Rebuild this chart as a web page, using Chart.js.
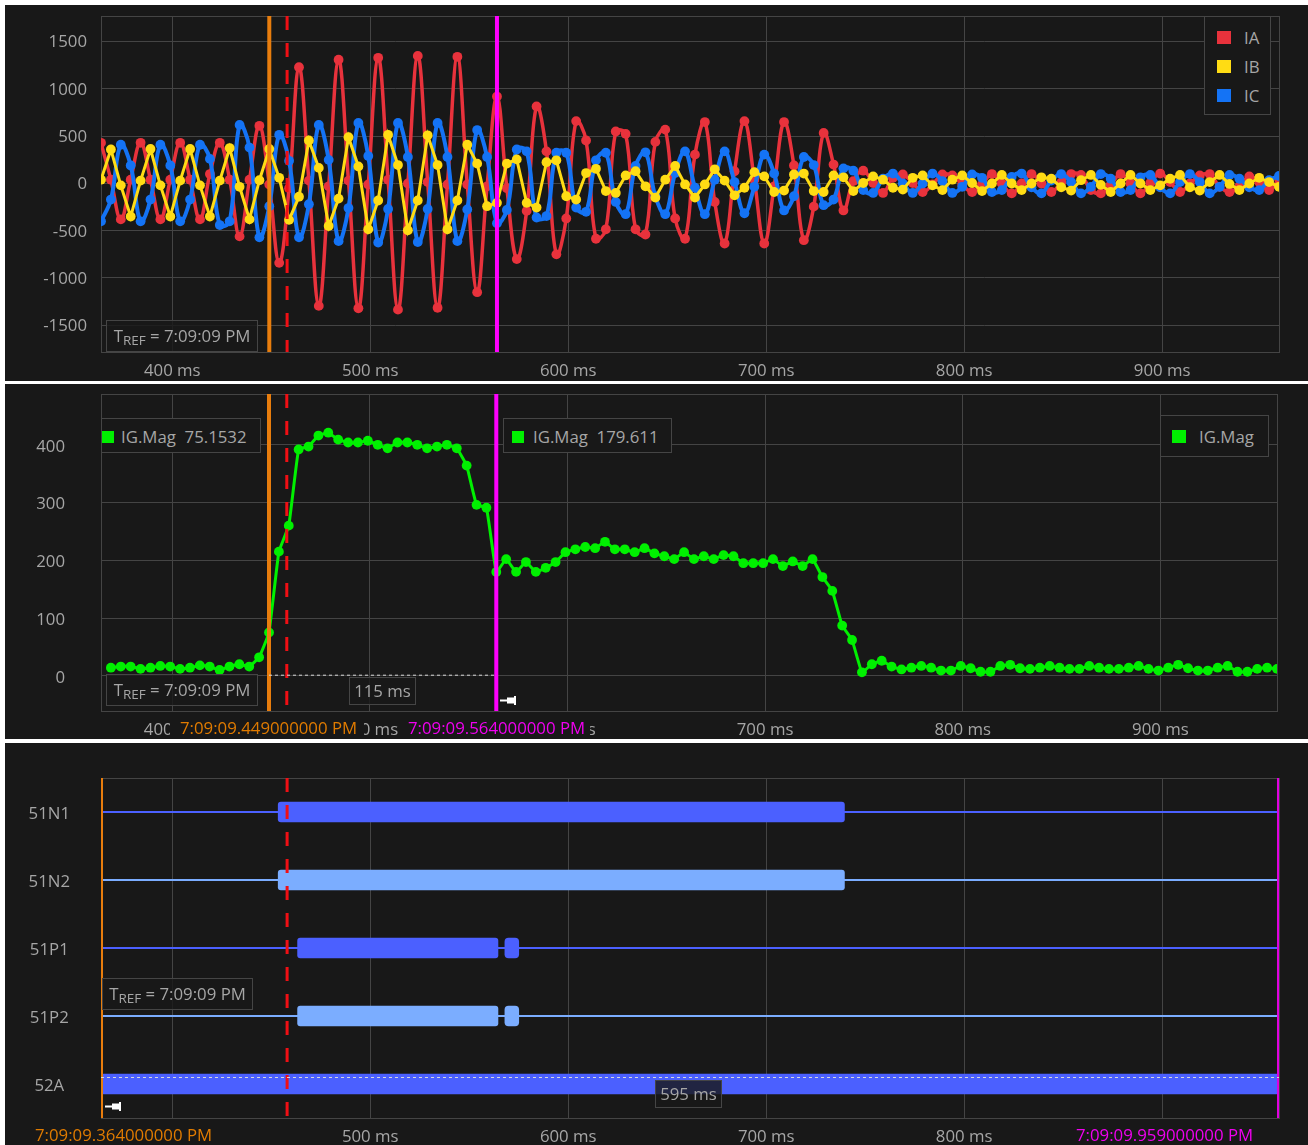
<!DOCTYPE html>
<html>
<head>
<meta charset="utf-8">
<title>Event record</title>
<script src="https://cdn.jsdelivr.net/npm/chart.js@4"></script>
<style>
  html, body { margin: 0; padding: 0; background: #fff; }
  body { position: relative; width: 1308px; height: 1145px; overflow: hidden; font-family: "Open Sans", sans-serif; font-size: 16.8px; color: #a6a6a6; }
  .panel { position: absolute; left: 5px; width: 1303px; background: #181818; }
  canvas { display: block; }
  .box { position: absolute; box-sizing: border-box; border: 1px solid #454545; background: rgba(24,24,24,.82); line-height: 30px; white-space: nowrap; }
  .box sub { font-size: 13.5px; vertical-align: -3px; line-height: 0; }
  .sq { position: absolute; width: 14px; height: 13px; }
  .txt { position: absolute; line-height: 20px; white-space: nowrap; }
  .stamp { position: absolute; height: 20px; line-height: 20px; background: #181818; white-space: nowrap; }
  .pin { position: absolute; width: 17px; height: 9px; }
</style>
</head>
<body>
<div class="panel" style="top:5px;height:376px"><canvas id="phaseChart"></canvas></div>
<div class="panel" style="top:384px;height:355px"><canvas id="magChart"></canvas></div>
<div class="panel" style="top:743px;height:402px"><canvas id="digitalChart"></canvas></div>

<!-- panel 1 overlays -->
<div class="box" style="left:106px;top:320px;width:152px;height:32px;text-align:center">T<sub>REF</sub> = 7:09:09 PM</div>
<div class="box" style="left:1204px;top:16px;width:67px;height:99px;background:#181818"></div>
<div class="sq" style="left:1217px;top:31px;background:#e8323c"></div><div class="txt" style="left:1244px;top:28px">IA</div>
<div class="sq" style="left:1217px;top:60px;background:#ffdc14"></div><div class="txt" style="left:1244px;top:57px">IB</div>
<div class="sq" style="left:1217px;top:89px;background:#1473f5"></div><div class="txt" style="left:1244px;top:86px">IC</div>

<!-- panel 2 overlays -->
<div class="box" style="left:101px;top:418px;width:160px;height:35px;background:#181818"></div>
<div class="sq" style="left:102px;top:431px;width:12px;height:12px;background:#00f000"></div>
<div class="txt" style="left:121px;top:427px">IG.Mag&nbsp; 75.1532</div>
<div class="box" style="left:503px;top:418px;width:169px;height:35px;background:#181818"></div>
<div class="sq" style="left:512px;top:431px;width:12px;height:12px;background:#00f000"></div>
<div class="txt" style="left:533px;top:427px">IG.Mag&nbsp; 179.611</div>
<div class="box" style="left:1160px;top:415px;width:109px;height:42px;background:#181818"></div>
<div class="sq" style="left:1172px;top:430px;background:#00f000"></div>
<div class="txt" style="left:1199px;top:427px">IG.Mag</div>
<div class="box" style="left:106px;top:674px;width:152px;height:32px;text-align:center">T<sub>REF</sub> = 7:09:09 PM</div>
<div class="box" style="left:349px;top:677px;width:67px;height:28px;line-height:26px;text-align:center">115 ms</div>
<svg class="pin" style="left:500px;top:696px" viewBox="0 0 17 9"><path d="M0 3.5h7v2H0zM7 1.5h7v6H7zM14 0h2v9h-2z" fill="#fff"/></svg>
<div class="stamp" style="left:170px;top:718px;width:184px;padding-left:10px;color:#e07b00">7:09:09.449000000 PM</div>
<div class="stamp" style="left:399px;top:718px;width:182px;padding-left:9px;color:#f000f0">7:09:09.564000000 PM</div>

<!-- panel 3 overlays -->
<div class="box" style="left:102px;top:978px;width:151px;height:32px;text-align:center">T<sub>REF</sub> = 7:09:09 PM</div>
<div class="box" style="left:655px;top:1080px;width:67px;height:28px;line-height:26px;text-align:center">595 ms</div>
<svg class="pin" style="left:105px;top:1102px" viewBox="0 0 17 9"><path d="M0 3.5h7v2H0zM7 1.5h7v6H7zM14 0h2v9h-2z" fill="#fff"/></svg>
<div class="stamp" style="left:30px;top:1125px;width:188px;padding-left:5px;color:#e07b00">7:09:09.364000000 PM</div>
<div class="stamp" style="left:1070px;top:1125px;width:188px;padding-left:6px;color:#f000f0">7:09:09.959000000 PM</div>

<script>
/* Sample times in ms, one reading every 5 ms */
const TIMES = [364,369,374,379,384,389,394,399,404,409,414,419,424,429,434,439,444,449,454,459,
  464,469,474,479,484,489,494,499,504,509,514,519,524,529,534,539,544,549,554,559,
  564,569,574,579,584,589,594,599,604,609,614,619,624,629,634,639,644,649,654,659,
  664,669,674,679,684,689,694,699,704,709,714,719,724,729,734,739,744,749,754,759,
  764,769,774,779,784,789,794,799,804,809,814,819,824,829,834,839,844,849,854,859,
  864,869,874,879,884,889,894,899,904,909,914,919,924,929,934,939,944,949,954,959];

const IA = [430,40,-380,40,430,40,-380,40,430,40,-380,100,430,40,-560,40,610,-10,-840,-50,
  1230,30,-1295,-30,1310,30,-1320,-10,1330,40,-1335,0,1350,15,-1315,-10,1340,-10,-1150,-30,
  920,-50,-800,-290,815,340,-750,-370,660,455,-585,-485,550,525,-485,-540,440,570,-370,-585,
  305,650,-195,-635,130,660,40,-635,-30,650,190,-600,-245,535,200,-285,25,135,5,-100,
  60,95,5,-90,-10,95,85,-10,-90,-10,100,0,-105,0,100,0,-90,10,100,90,
  -70,-105,-15,100,0,-105,5,105,15,-90,0,85,100,-35,-90,-35,75,15,-70,50];

const IB = [40,360,-20,-350,30,365,-20,-350,30,365,-20,-350,30,375,-35,-380,35,365,60,-385,
  -140,455,165,-450,-160,490,180,-485,-180,515,195,-495,-180,510,195,-485,-180,410,210,-240,
  -205,210,255,-205,-255,225,245,-135,-170,110,155,-80,-100,85,130,-30,-150,40,185,-10,
  -150,-10,150,30,-125,-45,120,75,-90,-75,95,105,-80,-90,85,65,-80,5,75,40,
  -45,-65,60,85,-20,-70,40,85,5,-80,0,90,0,-70,0,65,50,-40,-75,35,
  90,-15,-90,0,90,0,-70,-20,50,90,-40,-75,15,90,-5,-70,0,60,15,-35];

const IC = [-400,-170,410,190,-400,-170,410,190,-400,-170,410,260,-440,-400,620,380,-570,-240,515,240,
  -570,-220,620,250,-610,-260,640,290,-625,-270,640,280,-620,-270,640,280,-610,-275,565,280,
  -420,-280,360,340,-360,-345,325,325,-255,-300,245,325,-195,-325,185,330,-135,-325,110,340,
  -45,-325,40,340,15,-315,-35,305,105,-285,-135,280,195,-230,-170,160,135,-70,-100,50,
  105,0,-100,0,105,25,-100,-35,95,60,-90,-70,70,105,-40,-105,30,100,15,-105,
  -35,100,50,-90,-70,65,90,-40,-105,15,100,15,-105,-35,90,50,-40,-70,35,80];

/* first sample has no magnitude yet */
const IG_MAG = [null,14,16,16,12,14,17,16,12,14,18,16,10,16,20,16,32,75,215,260,
  392,397,416,421,409,404,404,407,400,394,404,404,400,394,397,400,394,364,296,291,
  179.6,202,180,197,180,187,197,214,219,223,221,232,219,219,214,221,212,207,202,214,
  202,207,202,209,207,195,195,195,202,190,198,190,202,171,147,87,62,6,20,26,
  16,11,14,17,14,9,9,17,13,7,7,17,19,13,12,14,17,14,12,12,
  17,14,12,12,14,17,12,9,14,19,13,9,9,14,17,7,7,12,14,12];

const PHASE_TICKS = [1500,1000,500,0,-500,-1000,-1500];
const MAG_TICKS = [400,300,200,100,0];
const TIME_TICKS = [400,500,600,700,800,900];

const DIGITAL_NAMES = ['51N1','51N2','51P1','51P2','52A'];
const FIRST_ON = [[453.5,739.5],[453.5,739.5],[463.3,564.5],[463.3,564.5],[364,959]];
const SECOND_ON = [null,null,[568,575],[568,575],null];
const RECORD_SPAN = [[364,959],[364,959],[364,959],[364,959],[364,959]];

const T_LEFT = 449, T_RIGHT = 564, T_TRIGGER = 458;
const T_START = 364, T_END = 959;

const GRID = '#444444';
const TICK = '#a6a6a6';
const FONT = { family: '"Open Sans", sans-serif', size: 16.8 };
const RED = '#e8323c', YELLOW = '#ffdc14', BLUE = '#1473f5', GREEN = '#00f000';
const DARK_ROW = '#4b60ff', LIGHT_ROW = '#7badff';
const ROW_COLORS = [DARK_ROW, LIGHT_ROW, DARK_ROW, LIGHT_ROW, DARK_ROW];
const ORANGE_CURSOR = { at: T_LEFT, color: '#e87d0d', width: 4 };
const MAGENTA_CURSOR = { at: T_RIGHT, color: '#ff00ff', width: 4 };
const RED_CURSOR = { at: T_TRIGGER, color: '#f00f14', width: 3, dash: [14, 13] };

/* plot frame, cursors and the dashed measure line, all placed through the scales */
function markup(cursors, measure) {
  return {
    id: 'markup',
    beforeDatasetsDraw(chart) {
      const a = chart.chartArea, ctx = chart.ctx;
      ctx.save();
      ctx.strokeStyle = GRID;
      ctx.lineWidth = 1;
      ctx.strokeRect(a.left + .5, a.top + .5, a.width, a.height);
      ctx.restore();
    },
    afterDatasetsDraw(chart) {
      const a = chart.chartArea, ctx = chart.ctx, sx = chart.scales.x;
      ctx.save();
      cursors.forEach(c => {
        const px = sx.getPixelForValue(c.at) + (c.nudge || 0);
        ctx.beginPath();
        ctx.strokeStyle = c.color;
        ctx.lineWidth = c.width;
        ctx.setLineDash(c.dash || []);
        ctx.moveTo(px, a.top);
        ctx.lineTo(px, a.bottom);
        ctx.stroke();
      });
      if (measure) {
        const py = chart.scales.y.getPixelForValue(measure.y) + (measure.nudge || 0);
        ctx.beginPath();
        ctx.strokeStyle = '#d8d8d8';
        ctx.lineWidth = 1;
        ctx.setLineDash([3, 3]);
        ctx.moveTo(sx.getPixelForValue(measure.from), py);
        ctx.lineTo(sx.getPixelForValue(measure.to), py);
        ctx.stroke();
      }
      ctx.restore();
    }
  };
}

function points(values) {
  return TIMES.map((t, i) => ({ x: t, y: values[i] }));
}

function trace(label, values, color, order, tension, width) {
  return {
    label: label,
    data: points(values),
    borderColor: color,
    backgroundColor: color,
    borderWidth: width,
    pointRadius: 4.9,
    pointBorderWidth: 0,
    tension: tension,
    order: order
  };
}

function timeAxis(height, pad) {
  return {
    type: 'linear',
    min: T_START,
    max: T_END,
    afterFit: s => { s.height = height; s.paddingLeft = 0; s.paddingRight = 0; },
    afterBuildTicks: s => { s.ticks = TIME_TICKS.map(v => ({ value: v })); },
    grid: { color: GRID, drawTicks: false },
    border: { display: false },
    ticks: { color: TICK, font: FONT, padding: pad, maxRotation: 0, autoSkip: false, callback: v => v + ' ms' }
  };
}

function valueAxis(min, max, tickList, pad, labelShift) {
  return {
    min: min,
    max: max,
    afterFit: s => { s.width = 96; s.paddingTop = 0; s.paddingBottom = 0; },
    afterBuildTicks: s => { s.ticks = tickList.map(v => ({ value: v })); },
    grid: { color: GRID, drawTicks: false },
    border: { display: false },
    ticks: { color: TICK, font: FONT, padding: pad, labelOffset: labelShift, autoSkip: false, callback: v => String(v) }
  };
}

const baseOptions = { responsive: false, animation: false, events: [] };
const quietPlugins = { legend: { display: false }, tooltip: { enabled: false } };

function size(id, w, h) {
  const c = document.getElementById(id);
  c.width = w; c.height = h;
  c.style.width = w + 'px'; c.style.height = h + 'px';
  return c;
}

/* Phase currents */
new Chart(size('phaseChart', 1303, 376), {
  type: 'line',
  data: { datasets: [
    trace('IA', IA, RED, 3, 0.4, 3.5),
    trace('IB', IB, YELLOW, 1, 0, 3),
    trace('IC', IC, BLUE, 2, 0.4, 4)
  ] },
  options: Object.assign({}, baseOptions, {
    layout: { padding: { top: 11, right: 29, left: 0, bottom: 0 } },
    scales: {
      x: timeAxis(29, 9),
      y: valueAxis(-1783, 1772, PHASE_TICKS, 14, 1)
    },
    plugins: quietPlugins
  }),
  plugins: [markup([ORANGE_CURSOR, RED_CURSOR, MAGENTA_CURSOR])]
});

/* Ground current magnitude */
new Chart(size('magChart', 1303, 355), {
  type: 'line',
  data: { datasets: [ trace('IG.Mag', IG_MAG, GREEN, 1, 0.1, 3) ] },
  options: Object.assign({}, baseOptions, {
    layout: { padding: { top: 10, right: 31, left: 0, bottom: 0 } },
    scales: {
      x: timeAxis(28, 9),
      y: valueAxis(-61, 488, MAG_TICKS, 36, 2)
    },
    plugins: quietPlugins
  }),
  plugins: [markup([ORANGE_CURSOR, RED_CURSOR, MAGENTA_CURSOR], { from: T_LEFT, to: T_RIGHT, y: 1 })]
});

/* Digital channels */
new Chart(size('digitalChart', 1303, 402), {
  type: 'bar',
  data: {
    labels: DIGITAL_NAMES,
    datasets: [
      { label: 'first', data: FIRST_ON, backgroundColor: ROW_COLORS, barThickness: 20, borderRadius: 3, borderSkipped: false, grouped: false, order: 1 },
      { label: 'second', data: SECOND_ON, backgroundColor: ROW_COLORS, barThickness: 20, borderRadius: 4, borderSkipped: false, grouped: false, order: 1 },
      { label: 'record', data: RECORD_SPAN, backgroundColor: ROW_COLORS, barThickness: 1.5, grouped: false, order: 2 }
    ]
  },
  options: Object.assign({}, baseOptions, {
    indexAxis: 'y',
    layout: { padding: { top: 35, right: 29, left: 0, bottom: 0 } },
    scales: {
      x: timeAxis(27, 9),
      y: {
        type: 'category',
        afterFit: s => { s.width = 96; s.paddingTop = 0; s.paddingBottom = 0; },
        grid: { display: false },
        border: { display: false },
        ticks: { color: TICK, font: FONT, padding: 23, labelOffset: 2, crossAlign: 'center', autoSkip: false }
      }
    },
    plugins: quietPlugins
  }),
  plugins: [markup([
    RED_CURSOR,
    { at: T_START, color: '#e87d0d', width: 2, nudge: 1 },
    { at: T_END, color: '#e000e0', width: 2, nudge: -1 }
  ], { from: T_START, to: T_END, y: '52A', nudge: -6.5 })]
});
</script>
</body>
</html>
